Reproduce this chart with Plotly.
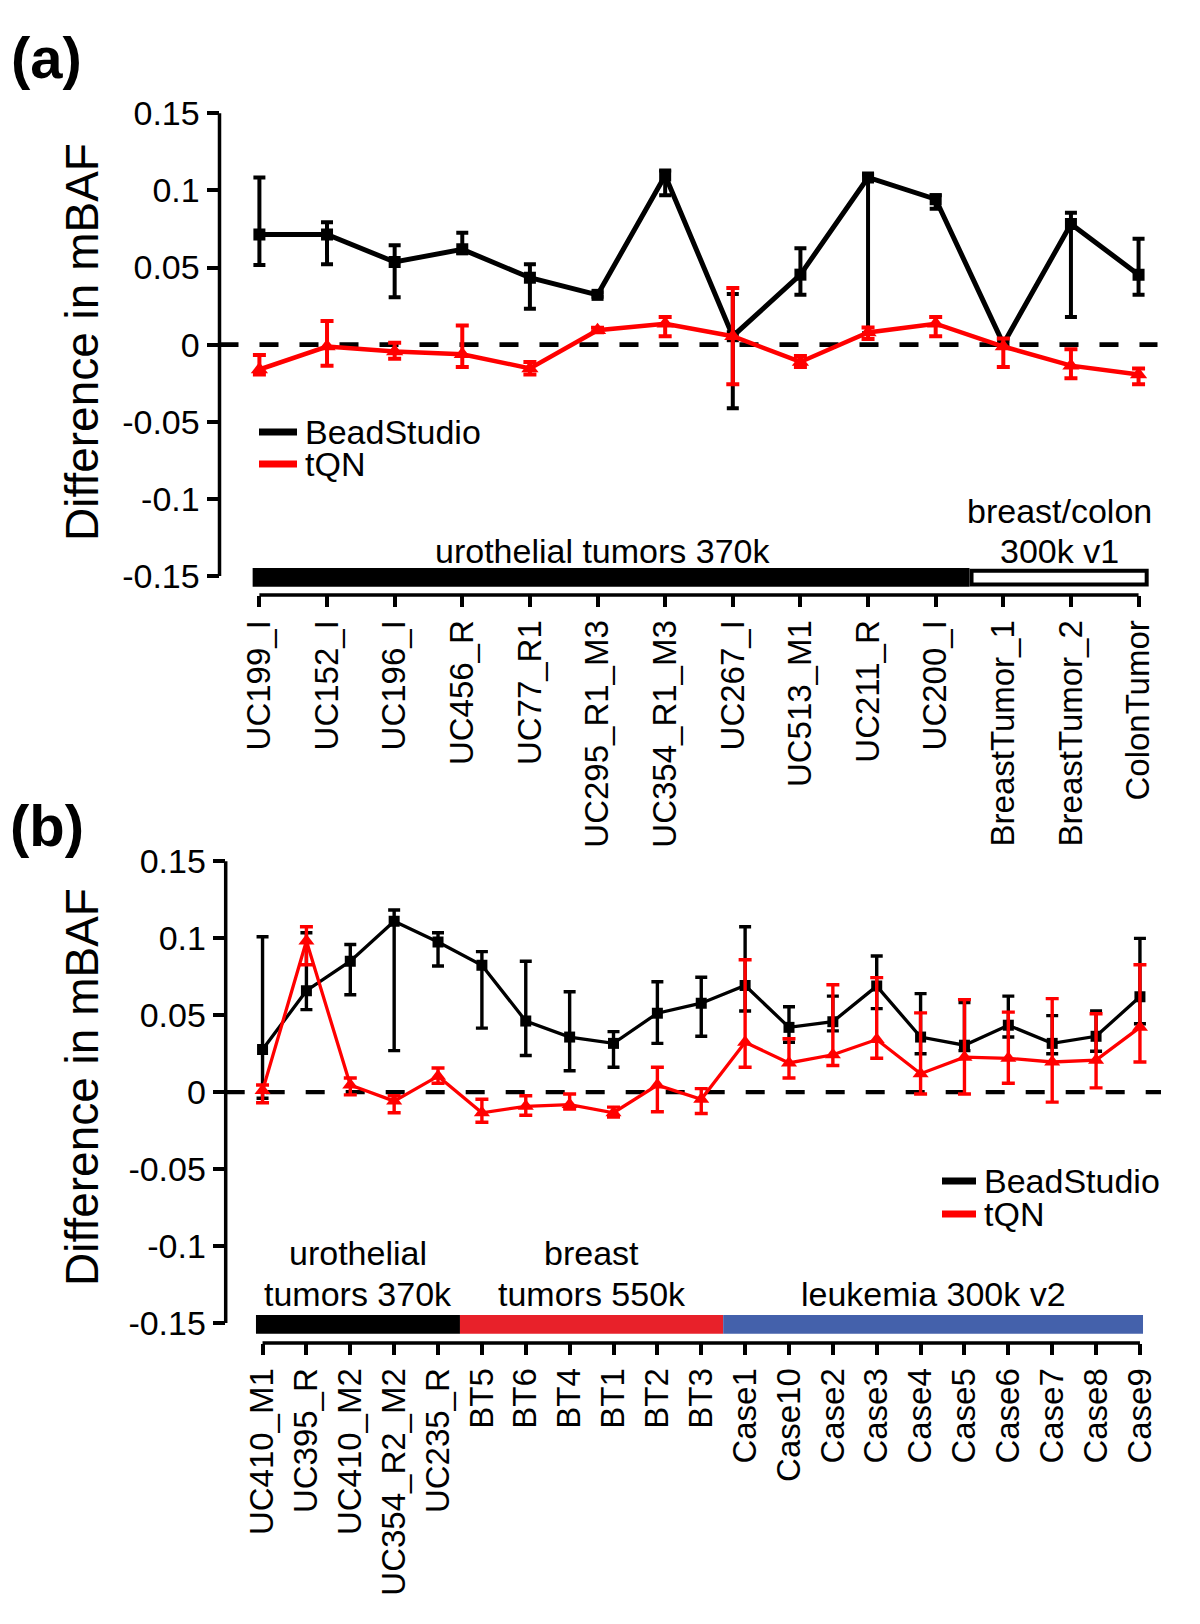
import plotly.graph_objects as go

# Page body adds an 8px margin; the figure is sized so that it fits the 1200x1624 window.
OFF = 8
W, H = 1200 - 2 * OFF, 1624 - 2 * OFF
FONT = "Liberation Sans, Arial, sans-serif"
RED = "#ff0000"

# ---------------- Panel (a) data ----------------
cats_a = ["UC199_I", "UC152_I", "UC196_I", "UC456_R", "UC77_R1", "UC295_R1_M3",
          "UC354_R1_M3", "UC267_I", "UC513_M1", "UC211_R", "UC200_I",
          "BreastTumor_1", "BreastTumor_2", "ColonTumor"]
bead_a = [0.0715, 0.0715, 0.0536, 0.0618, 0.0434, 0.0323, 0.1097, 0.0055, 0.0454,
          0.1084, 0.0943, 0.0005, 0.0782, 0.0454]
bead_a_hi = [0.1084, 0.0794, 0.0645, 0.0725, 0.0521, 0.0340, 0.1130, 0.0328, 0.0625,
             0.1104, 0.0968, 0.0020, 0.0856, 0.0687]
bead_a_lo = [0.0516, 0.0521, 0.0308, 0.0596, 0.0233, 0.0310, 0.0968, -0.0412, 0.0323,
             0.0074, 0.0881, -0.0010, 0.0179, 0.0323]
tqn_a = [-0.0161, -0.0012, -0.0045, -0.0062, -0.0154, 0.0094, 0.0136, 0.0055, -0.0112,
         0.0079, 0.0136, -0.0012, -0.0136, -0.0194]
tqn_a_hi = [-0.0067, 0.0154, 0.0012, 0.0124, -0.0112, 0.0110, 0.0179, 0.0367, -0.0074,
            0.0112, 0.0179, 0.0040, -0.0030, -0.0154]
tqn_a_lo = [-0.0194, -0.0136, -0.0092, -0.0144, -0.0194, 0.0080, 0.0055, -0.0256, -0.0144,
            0.0037, 0.0055, -0.0144, -0.0218, -0.0256]
group_a_labels = [["urothelial tumors 370k"], ["breast/colon", "300k v1"]]
group_a_sizes = [11, 3]
group_a_fill = ["black", "white"]

# ---------------- Panel (b) data ----------------
cats_b = ["UC410_M1", "UC395_R", "UC410_M2", "UC354_R2_M2", "UC235_R",
          "BT5", "BT6", "BT4", "BT1", "BT2", "BT3",
          "Case1", "Case10", "Case2", "Case3", "Case4", "Case5", "Case6", "Case7",
          "Case8", "Case9"]
bead_b = [0.0277, 0.0659, 0.0851, 0.1110, 0.0975, 0.0825, 0.0462, 0.0358, 0.0317, 0.0513,
          0.0578, 0.0693, 0.0421, 0.0458, 0.0689, 0.0358, 0.0305, 0.0435, 0.0317, 0.0363,
          0.0620]
bead_b_hi = [0.1010, 0.1036, 0.0959, 0.1184, 0.1036, 0.0913, 0.0851, 0.0652, 0.0393, 0.0717,
             0.0747, 0.1075, 0.0555, 0.0624, 0.0885, 0.0640, 0.0583, 0.0624, 0.0497, 0.0527,
             0.0999]
bead_b_lo = [-0.0040, 0.0536, 0.0633, 0.0270, 0.0820, 0.0416, 0.0238, 0.0139, 0.0162, 0.0317,
             0.0363, 0.0527, 0.0324, 0.0398, 0.0543, 0.0250, 0.0270, 0.0358, 0.0250, 0.0266,
             0.0444]
tqn_b = [0.0010, 0.0982, 0.0046, -0.0058, 0.0104, -0.0134, -0.0092, -0.0081, -0.0134, 0.0046,
         -0.0046, 0.0324, 0.0190, 0.0243, 0.0342, 0.0120, 0.0227, 0.0220, 0.0196, 0.0208,
         0.0421]
tqn_b_hi = [0.0046, 0.1075, 0.0092, -0.0023, 0.0157, -0.0046, -0.0023, -0.0012, -0.0097, 0.0162,
            0.0023, 0.0860, 0.0347, 0.0698, 0.0744, 0.0515, 0.0601, 0.0520, 0.0608, 0.0509,
            0.0828]
tqn_b_lo = [-0.0069, 0.0828, -0.0018, -0.0134, 0.0058, -0.0196, -0.0150, -0.0110, -0.0162, -0.0127,
            -0.0139, 0.0162, 0.0092, 0.0173, 0.0220, -0.0012, -0.0012, 0.0058, -0.0065, 0.0028,
            0.0196]
group_b_labels = [["urothelial", "tumors 370k"], ["breast", "tumors 550k"], ["leukemia 300k v2"]]
group_b_sizes = [5, 6, 10]
group_b_fill = ["black", "#e8212a", "#4461ab"]

y_ticks = [-0.15, -0.1, -0.05, 0, 0.05, 0.1, 0.15]
y_ticktext = ["-0.15", "-0.1", "-0.05", "0", "0.05", "0.1", "0.15"]
series_names = ["BeadStudio", "tQN"]


def px_x(p):
    return (p - OFF) / W


def px_y(p):
    return 1 - (p - OFF) / H


fig = go.Figure()
shapes = []
annotations = []

panels = [
    dict(xa="x", ya="y", cats=cats_a, bead=(bead_a, bead_a_hi, bead_a_lo),
         tqn=(tqn_a, tqn_a_hi, tqn_a_lo), labels=group_a_labels, sizes=group_a_sizes,
         fills=group_a_fill, xdom=(219.5, 1157.5), ydom=(113, 595), xrange=(-0.59, 13.28),
         yrange=(-0.1623, 0.1502), lw_b=5.0, lw_r=4.5, ms_b=12, ms_r=15, et=4.0,
         ew_b=6.0, ew_r=6.5, dash="19px,21px", dw=4.7, bar_pad=(0.1, 0.15),
         outline=True, label_xshift=-8,
         legend=dict(x0=259, x1=297, tx=303, ys=(432, 464), fs=34),
         title_y=342, tag="(a)", tag_y=58, label_base=26, label_gap=40),
    dict(xa="x2", ya="y2", cats=cats_b, bead=(bead_b, bead_b_hi, bead_b_lo),
         tqn=(tqn_b, tqn_b_hi, tqn_b_lo), labels=group_b_labels, sizes=group_b_sizes,
         fills=group_b_fill, xdom=(225.7, 1161), ydom=(861, 1343), xrange=(-0.84, 20.48),
         yrange=(-0.163, 0.1502), lw_b=3.3, lw_r=3.3, ms_b=11, ms_r=14, et=3.4,
         ew_b=6.0, ew_r=6.5, dash="19px,21px", dw=4.2, bar_pad=(0.15, 0.07),
         outline=False, label_xshift=0,
         legend=dict(x0=942, x1=976, tx=982, ys=(1181, 1214), fs=34),
         title_y=1087, tag="(b)", tag_y=825, label_base=30, label_gap=41),
]

for i, P in enumerate(panels):
    xa, ya = P["xa"], P["ya"]
    n = len(P["cats"])
    # dashed zero line
    shapes.append(dict(type="line", xref=f"{xa} domain", yref=ya, x0=0, x1=1, y0=0, y1=0,
                       line=dict(color="black", width=P["dw"], dash=P["dash"]), layer="below"))
    # series
    for k, (vals, col, sym, lw, ms, ew) in enumerate([
        (P["bead"], "black", "square", P["lw_b"], P["ms_b"], P["ew_b"]),
        (P["tqn"], RED, "triangle-up", P["lw_r"], P["ms_r"], P["ew_r"]),
    ]):
        m, hi, lo = vals
        fig.add_trace(go.Scatter(
            x=P["cats"], y=m, xaxis=xa, yaxis=ya, mode="lines+markers",
            name=series_names[k], showlegend=False,
            line=dict(color=col, width=lw),
            marker=dict(symbol=sym, size=ms, color=col),
            error_y=dict(type="data", symmetric=False,
                         array=[h - v for h, v in zip(hi, m)],
                         arrayminus=[v - l for v, l in zip(m, lo)],
                         color=col, thickness=P["et"], width=ew),
        ))
    # y-axis spine (from -0.15 to 0.15)
    shapes.append(dict(type="line", xref=f"{xa} domain", yref=ya, x0=0, x1=0,
                       y0=y_ticks[0], y1=y_ticks[-1], line=dict(color="black", width=3.5)))
    # x-axis spine (first to last category)
    shapes.append(dict(type="line", xref=xa, yref=f"{ya} domain", x0=0, x1=n - 1,
                       y0=0, y1=0, line=dict(color="black", width=3.5)))
    # group bar
    start = -P["bar_pad"][0]
    end = n - 1 + P["bar_pad"][1]
    cum = 0
    for g, (lab, size, fill) in enumerate(zip(P["labels"], P["sizes"], P["fills"])):
        g0 = start if g == 0 else cum - 0.5
        cum += size
        g1 = end if g == len(P["sizes"]) - 1 else cum - 0.5
        if fill == "white" and P["outline"]:
            shapes.append(dict(type="rect", xref=xa, yref=ya, x0=g0 + 0.03, x1=g1 - 0.03,
                               y0=-0.1555, y1=-0.1465, fillcolor="white",
                               line=dict(color="black", width=4)))
        else:
            shapes.append(dict(type="rect", xref=xa, yref=ya, x0=g0, x1=g1,
                               y0=-0.157, y1=-0.1448, fillcolor=fill, line=dict(width=0)))
        cx = (g0 + g1) / 2
        for j, line_txt in enumerate(reversed(lab)):
            annotations.append(dict(text=line_txt, xref=xa, yref=ya, x=cx, y=-0.1509,
                                    xanchor="center", yanchor="middle", showarrow=False,
                                    xshift=P["label_xshift"] if g == 0 else 0,
                                    yshift=P["label_base"] + j * P["label_gap"],
                                    font=dict(family=FONT, size=34, color="black")))
    # legend
    L = P["legend"]
    for k, col in enumerate(["black", RED]):
        yy = px_y(L["ys"][k])
        shapes.append(dict(type="line", xref="paper", yref="paper", x0=px_x(L["x0"]),
                           x1=px_x(L["x1"]), y0=yy, y1=yy, line=dict(color=col, width=7)))
        annotations.append(dict(text=series_names[k], xref="paper", yref="paper",
                                x=px_x(L["tx"]), y=yy, xanchor="left", yanchor="middle",
                                showarrow=False,
                                font=dict(family=FONT, size=L["fs"], color="black")))
    # y title
    annotations.append(dict(text="Difference in mBAF", xref="paper", yref="paper",
                            x=px_x(82), y=px_y(P["title_y"]), xanchor="center",
                            yanchor="middle", textangle=-90, showarrow=False,
                            font=dict(family=FONT, size=46, color="black")))
    # panel tag
    annotations.append(dict(text=f"<b>{P['tag']}</b>", xref="paper", yref="paper",
                            x=px_x(47), y=px_y(P["tag_y"]), xanchor="center",
                            yanchor="middle", showarrow=False,
                            font=dict(family=FONT, size=58, color="black")))

    suffix = "" if i == 0 else "2"
    fig.layout["xaxis" + suffix] = dict(
        domain=[px_x(P["xdom"][0]), px_x(P["xdom"][1])], range=list(P["xrange"]),
        anchor=ya, type="category", tickangle=-90, ticks="outside", ticklen=11,
        tickwidth=3.5, tickcolor="black", showline=False, showgrid=False, zeroline=False,
        automargin=False, tickfont=dict(family=FONT, size=33, color="black"),
        fixedrange=True)
    fig.layout["yaxis" + suffix] = dict(
        domain=[px_y(P["ydom"][1]), px_y(P["ydom"][0])], range=list(P["yrange"]),
        anchor=xa, tickmode="array", tickvals=y_ticks, ticktext=y_ticktext,
        ticks="outside", ticklen=12, tickwidth=3.5, tickcolor="black", showline=False,
        showgrid=False, zeroline=False, automargin=False,
        tickfont=dict(family=FONT, size=34, color="black"), fixedrange=True)

fig.update_layout(width=W, height=H, margin=dict(l=0, r=0, t=0, b=0, pad=0),
                  autosize=False,
                  paper_bgcolor="white", plot_bgcolor="white", showlegend=False,
                  shapes=shapes, annotations=annotations,
                  font=dict(family=FONT, color="black"))

fig.write_html("out.html")
